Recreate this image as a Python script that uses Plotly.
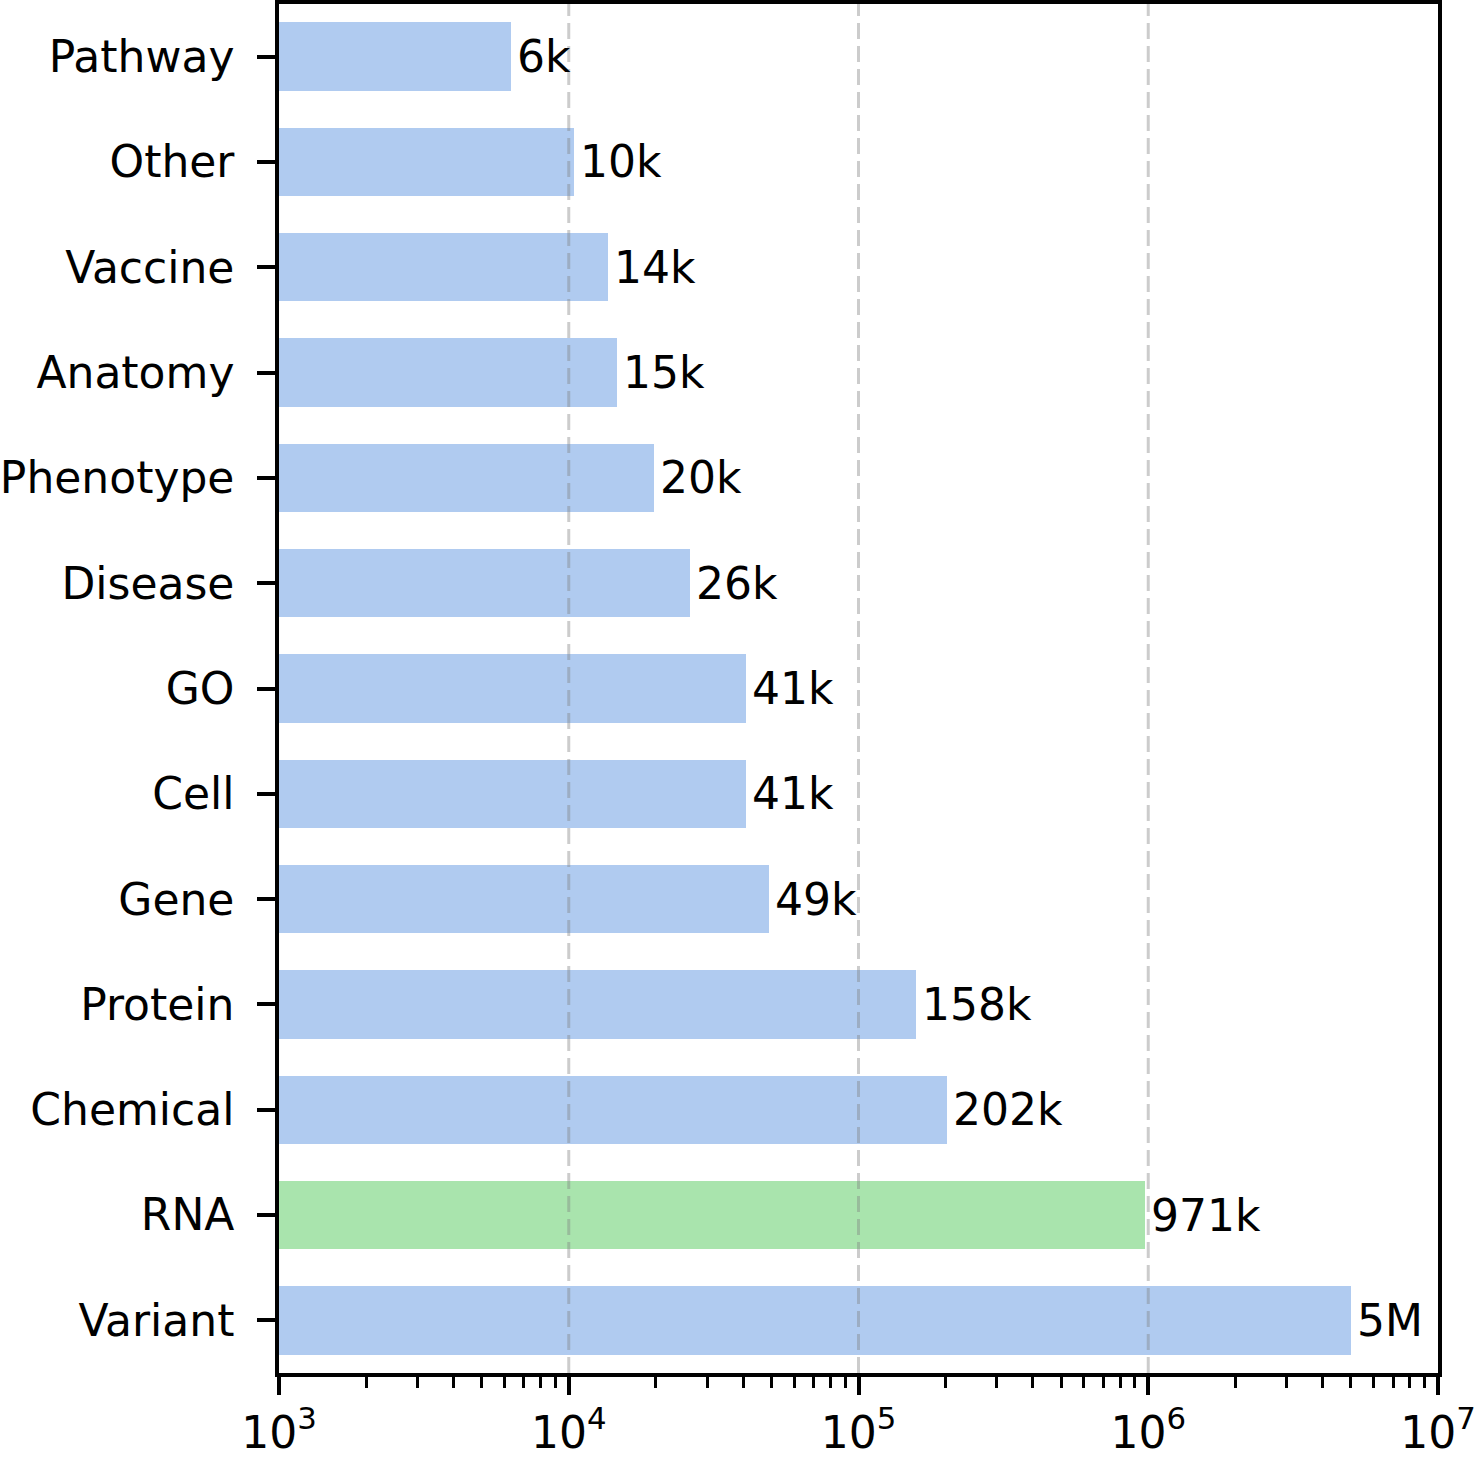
import numpy as np
import plotly.graph_objects as go

# Data (bottom to top)
categories = ["Variant", "RNA", "Chemical", "Protein", "Gene", "Cell", "GO",
              "Disease", "Phenotype", "Anatomy", "Vaccine", "Other", "Pathway"]
counts = [5020000, 971000, 202000, 158000, 49000, 41000, 40800,
          26200, 19700, 14700, 13700, 10400, 6300]
count_labels = ["5M", "971k", "202k", "158k", "49k", "41k", "41k",
                "26k", "20k", "15k", "14k", "10k", "6k"]
highlight = "RNA"
major_ticks = [1e3, 1e4, 1e5, 1e6, 1e7]
major_tick_text = ["10<sup>3</sup>", "10<sup>4</sup>", "10<sup>5</sup>",
                   "10<sup>6</sup>", "10<sup>7</sup>"]

BLUE = "#b0cbf0"
GREEN = "#a9e4ad"
FONT = "DejaVu Sans"
FS = 44

colors = [GREEN if c == highlight else BLUE for c in categories]

fig = go.Figure()
fig.add_trace(go.Bar(
    x=counts, y=categories, orientation="h",
    marker=dict(color=colors, line=dict(width=0)),
    width=0.65, hoverinfo="x+y",
))

annotations = []
for c, v, lab in zip(categories, counts, count_labels):
    annotations.append(dict(
        x=np.log10(v), y=c, xref="x", yref="y", text=lab,
        showarrow=False, xanchor="left", yanchor="middle", xshift=4,
        font=dict(family=FONT, size=FS, color="black"),
    ))

shapes = []
for t in major_ticks[1:-1]:
    shapes.append(dict(
        type="line", xref="x", yref="paper", x0=t, x1=t, y0=0, y1=1,
        layer="above",
        line=dict(color="rgba(128,128,128,0.4)", width=3, dash="16px,7px"),
    ))

fig.update_layout(
    width=1476, height=1458,
    margin=dict(l=276, r=38, t=0, b=84),
    paper_bgcolor="white", plot_bgcolor="white",
    font=dict(family=FONT, size=FS, color="black"),
    showlegend=False,
    annotations=annotations,
    shapes=shapes,
    bargap=0,
)
fig.update_xaxes(
    type="log", range=[3, 7],
    tickvals=major_ticks, ticktext=major_tick_text,
    ticks="outside", ticklen=18, tickwidth=3.5, tickcolor="black",
    showline=True, linewidth=3.5, linecolor="black", mirror=True,
    showgrid=False, zeroline=False,
    tickfont=dict(family=FONT, size=FS, color="black"),
    minor=dict(ticks="outside", ticklen=11, tickwidth=2.5, tickcolor="black",
               dtick="D1", showgrid=False),
)
fig.update_yaxes(
    type="category", categoryorder="array", categoryarray=categories,
    range=[-0.5, len(categories) - 0.5],
    ticks="outside", ticklen=18, tickwidth=3.5, tickcolor="black",
    showline=True, linewidth=3.5, linecolor="black", mirror=True,
    showgrid=False, zeroline=False,
    ticklabelstandoff=14,
    tickfont=dict(family=FONT, size=FS, color="black"),
)

fig.write_html("out.html",
               config={"displayModeBar": False},
               post_script="document.body.style.margin='0';document.body.style.overflow='hidden';")
